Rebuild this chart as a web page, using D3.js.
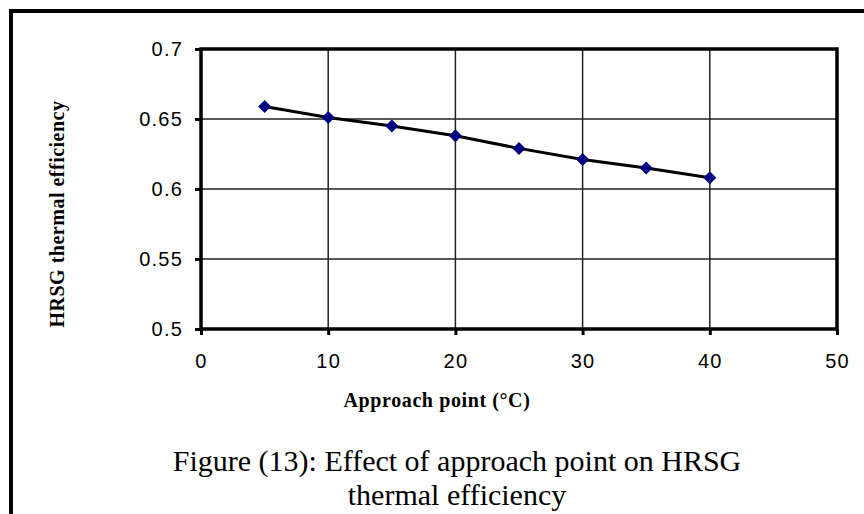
<!DOCTYPE html>
<html><head><meta charset="utf-8">
<script src="https://cdn.jsdelivr.net/npm/d3@7"></script>
<style>body{margin:0;background:#fff;} svg{display:block;}</style>
</head><body>
<script>
const approach = [5, 10, 15, 20, 25, 30, 35, 40];
const efficiency = [0.659, 0.651, 0.645, 0.638, 0.629, 0.621, 0.615, 0.608];
const xTicks = [0, 10, 20, 30, 40, 50];
const yTicks = [0.5, 0.55, 0.6, 0.65, 0.7];

const W = 864, H = 514;
const svg = d3.select("body").append("svg").attr("width", W).attr("height", H);

// outer frame (left and top only visible)
svg.append("path").attr("d", `M11,${H+5} L11,11 L${W+5},11`)
  .attr("fill", "none").attr("stroke", "#000").attr("stroke-width", 4);

const L = 201, R = 837, T = 49, B = 329;
const x = d3.scaleLinear().domain([0, 50]).range([L, R]);
const y = d3.scaleLinear().domain([0.5, 0.7]).range([B, T]);

// grid
const g = svg.append("g");
g.selectAll(".vg").data(xTicks).join("line")
  .attr("x1", d => x(d)).attr("x2", d => x(d)).attr("y1", T).attr("y2", B)
  .attr("stroke", "#222").attr("stroke-width", 1.5);
g.selectAll(".hg").data(yTicks).join("line")
  .attr("x1", L).attr("x2", R).attr("y1", d => y(d)).attr("y2", d => y(d))
  .attr("stroke", "#222").attr("stroke-width", 1.5);

// axes
const xAxis = d3.axisBottom(x).tickValues(xTicks).tickSize(6).tickPadding(19).tickFormat(d3.format("d"));
const yAxis = d3.axisLeft(y).tickValues(yTicks).tickSize(6).tickPadding(12).tickFormat(d => String(+d));
const gx = svg.append("g").attr("transform", `translate(0,${B})`).call(xAxis);
const gy = svg.append("g").attr("transform", `translate(${L},0)`).call(yAxis);
[gx, gy].forEach(a => {
  a.select(".domain").remove();
  a.selectAll(".tick line").attr("stroke", "#000").attr("stroke-width", 3);
  a.selectAll(".tick text").attr("font-family", "Liberation Sans, Arial, sans-serif")
    .attr("font-size", 20).attr("letter-spacing", 1.2).attr("fill", "#000");
});

// plot frame
svg.append("rect").attr("x", L).attr("y", T).attr("width", R - L).attr("height", B - T)
  .attr("fill", "none").attr("stroke", "#000").attr("stroke-width", 3.5);

// line
const data = approach.map((a, i) => ({ a, e: efficiency[i] }));
svg.append("path").datum(data)
  .attr("d", d3.line().x(d => x(d.a)).y(d => y(d.e)))
  .attr("fill", "none").attr("stroke", "#000").attr("stroke-width", 3);

// markers
svg.selectAll(".pt").data(data).join("path")
  .attr("transform", d => `translate(${x(d.a)},${y(d.e)})`)
  .attr("d", "M0,-6.5 L6.5,0 L0,6.5 L-6.5,0 Z")
  .attr("fill", "#000080");

// axis titles
svg.append("text").attr("x", 437).attr("y", 407).attr("text-anchor", "middle")
  .attr("font-family", "Liberation Serif, Times New Roman, serif").attr("font-weight", "bold")
  .attr("font-size", 20).attr("letter-spacing", 0.6).text("Approach point (°C)");
svg.append("text").attr("transform", "translate(64,214) rotate(-90)").attr("text-anchor", "middle")
  .attr("font-family", "Liberation Serif, Times New Roman, serif").attr("font-weight", "bold")
  .attr("font-size", 20).attr("letter-spacing", 0.5).text("HRSG thermal efficiency");

// caption
svg.append("text").attr("x", 457).attr("y", 471).attr("text-anchor", "middle")
  .attr("font-family", "Liberation Serif, Times New Roman, serif")
  .attr("font-size", 30).text("Figure (13): Effect of approach point on HRSG");
svg.append("text").attr("x", 457).attr("y", 505).attr("text-anchor", "middle")
  .attr("font-family", "Liberation Serif, Times New Roman, serif")
  .attr("font-size", 30).text("thermal efficiency");
</script>
</body></html>
